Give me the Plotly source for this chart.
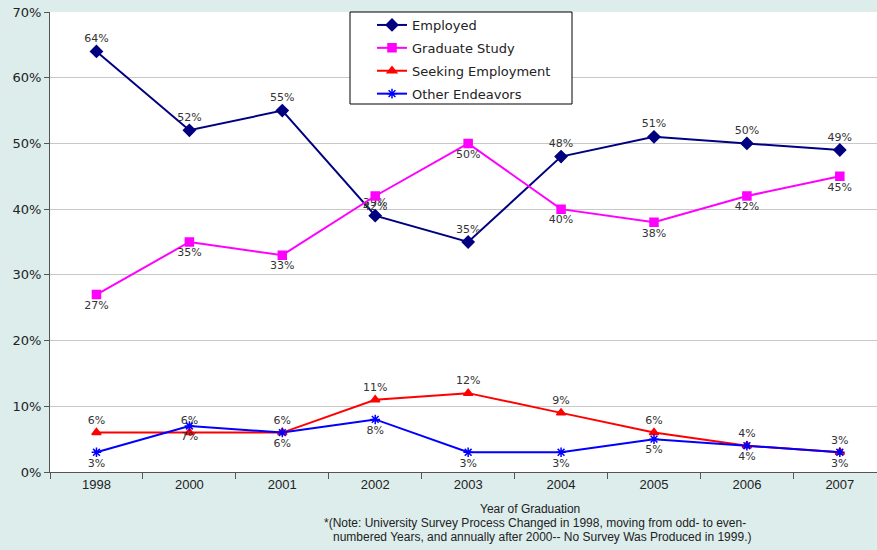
import plotly.graph_objects as go

years = ["1998", "2000", "2001", "2002", "2003", "2004", "2005", "2006", "2007"]
employed = [64, 52, 55, 39, 35, 48, 51, 50, 49]
graduate = [27, 35, 33, 42, 50, 40, 38, 42, 45]
seeking = [6, 6, 6, 11, 12, 9, 6, 4, 3]
other = [3, 7, 6, 8, 3, 3, 5, 4, 3]
y_ticks = [0, 10, 20, 30, 40, 50, 60, 70]
y_tick_labels = [f"{v}%" for v in y_ticks]

label_font = dict(family="DejaVu Sans", size=11, color="#333333")

series = [
    ("Employed", employed, "#000080", "diamond", "top center", 9),
    ("Graduate Study", graduate, "#FF00FF", "square", "bottom center", 8),
    ("Seeking Employment", seeking, "#FF0000", "triangle-up", "top center", 8),
    ("Other Endeavors", other, "#0000FF", "asterisk-open", "bottom center", 8),
]

fig = go.Figure()
for name, vals, color, sym, tpos, msize in series:
    fig.add_trace(go.Scatter(
        x=years, y=vals, name=name, legendgroup=name, mode="lines+markers+text",
        line=dict(color=color, width=2),
        marker=dict(symbol=sym, size=msize, color=color, line=dict(color=color, width=1.5)),
        text=[f"{v}%" for v in vals], textposition=tpos, textfont=label_font,
        cliponaxis=False,
    ))

pl, pr, pt, pb = 50, 877, 12, 472

def px_x(px):
    return (px - pl) / (pr - pl)

def px_y(py):
    return (pb - py) / (pb - pt)

fig.update_layout(
    width=877, height=550,
    margin=dict(l=50, r=0, t=12, b=78),
    paper_bgcolor="#DCEDEC", plot_bgcolor="#FFFFFF",
    showlegend=True,
    legend=dict(
        x=px_x(372), y=px_y(10), xanchor="left", yanchor="top",
        bgcolor="rgba(0,0,0,0)", borderwidth=0,
        font=dict(family="DejaVu Sans", size=13, color="#222222"),
        tracegroupgap=3,
    ),
    shapes=[dict(
        type="rect", xref="paper", yref="paper", layer="above",
        x0=px_x(350), x1=px_x(572), y0=px_y(104), y1=px_y(12),
        fillcolor="#FFFFFF", line=dict(color="#000000", width=1),
    )],
    xaxis=dict(
        type="category", range=[-0.5, 8.4],
        showline=True, linecolor="#555555", linewidth=1,
        ticks="outside", tickson="boundaries", ticklen=6, tickcolor="#555555",
        showgrid=False,
        tickfont=dict(family="Liberation Sans Narrow, Arial Narrow, Liberation Sans", size=13, color="#222222"),
    ),
    yaxis=dict(
        range=[0, 70], tickvals=y_ticks, ticktext=y_tick_labels,
        showline=True, linecolor="#555555", linewidth=1,
        ticks="outside", ticklen=5, tickcolor="#555555",
        showgrid=True, gridcolor="#C8C8C8", gridwidth=1,
        zeroline=False,
        tickfont=dict(family="DejaVu Sans", size=13, color="#222222"),
    ),
)

notes = [
    ("Year of Graduation", 530, 509),
    ("*(Note: University Survey Process Changed in 1998, moving from odd- to even-", 535, 523),
    ("numbered Years, and annually after 2000-- No Survey Was Produced in 1999.)", 542, 537),
]
for txt, px, py in notes:
    fig.add_annotation(
        text=txt, x=px_x(px), y=px_y(py),
        xref="paper", yref="paper", showarrow=False, xanchor="center", yanchor="middle",
        font=dict(family="Liberation Sans Narrow, Arial Narrow, Liberation Sans", size=12, color="#222222"),
    )

fig.write_html("out.html", config={"displayModeBar": False},
               post_script="document.body.style.margin='0';")
